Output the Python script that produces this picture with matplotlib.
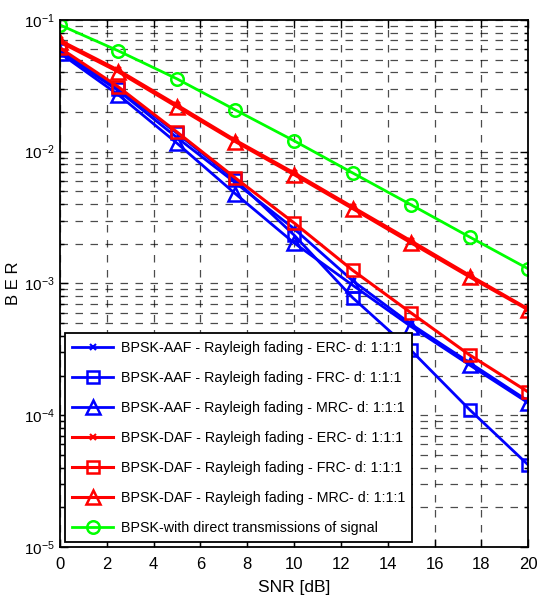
import numpy as np
import matplotlib
matplotlib.use("Agg")
import matplotlib.pyplot as plt
from matplotlib.ticker import FixedLocator, FixedFormatter, LogLocator, NullFormatter

matplotlib.rcParams["font.family"] = ["Liberation Sans", "DejaVu Sans"]
matplotlib.rcParams["mathtext.fontset"] = "custom"
matplotlib.rcParams["mathtext.rm"] = "Liberation Sans"
matplotlib.rcParams["mathtext.default"] = "regular"

# SNR points (dB)
snr = [0, 2.5, 5, 7.5, 10, 12.5, 15, 17.5, 20]

# BER curves
aaf_erc = [0.057, 0.029, 0.0128, 0.0058, 0.0026, 0.00105, 0.00049, 0.00025, 0.000128]
aaf_frc = [0.059, 0.030, 0.0138, 0.0061, 0.00233, 0.00078, 0.00031, 0.000110, 0.0000419]
aaf_mrc = [0.056, 0.027, 0.0116, 0.00478, 0.00203, 0.00097, 0.00047, 0.00024, 0.000124]
daf_erc = [0.070, 0.0415, 0.0226, 0.0122, 0.0069, 0.0038, 0.0021, 0.00115, 0.00064]
daf_frc = [0.0613, 0.031, 0.0141, 0.0063, 0.00288, 0.00126, 0.000597, 0.000286, 0.00015]
daf_mrc = [0.068, 0.0403, 0.0219, 0.0119, 0.0067, 0.0037, 0.00203, 0.00112, 0.00063]
direct = [0.0916, 0.0582, 0.0357, 0.0207, 0.0121, 0.0069, 0.00395, 0.00225, 0.00129]

labels = [
    "BPSK-AAF - Rayleigh fading - ERC- d: 1:1:1",
    "BPSK-AAF - Rayleigh fading - FRC- d: 1:1:1",
    "BPSK-AAF - Rayleigh fading - MRC- d: 1:1:1",
    "BPSK-DAF - Rayleigh fading - ERC- d: 1:1:1",
    "BPSK-DAF - Rayleigh fading - FRC- d: 1:1:1",
    "BPSK-DAF - Rayleigh fading - MRC- d: 1:1:1",
    "BPSK-with direct transmissions of signal",
]

fig = plt.figure(figsize=(5.39, 6.03), dpi=100)
ax = fig.add_axes([0.111, 0.093, 0.869, 0.874])

blue, red, green = (0, 0, 1), (1, 0, 0), (0, 1, 0)
ax.semilogy(snr, aaf_erc, color=blue, lw=2, marker="x", ms=4, mew=1.5, label=labels[0])
ax.semilogy(snr, aaf_frc, color=blue, lw=2, marker="s", ms=9, mfc="none", mew=1.8, label=labels[1])
ax.semilogy(snr, aaf_mrc, color=blue, lw=2, marker="^", ms=10, mfc="none", mew=1.8, label=labels[2])
ax.semilogy(snr, daf_erc, color=red, lw=2.2, marker="x", ms=4, mew=1.5, label=labels[3])
ax.semilogy(snr, daf_frc, color=red, lw=2.2, marker="s", ms=9, mfc="none", mew=1.8, label=labels[4])
ax.semilogy(snr, daf_mrc, color=red, lw=2.2, marker="^", ms=10, mfc="none", mew=1.8, label=labels[5])
ax.semilogy(snr, direct, color=green, lw=2, marker="o", ms=9, mfc="none", mew=1.8, label=labels[6])

ax.set_xlim(0, 20)
ax.set_ylim(1e-5, 1e-1)
ax.set_xticks(range(0, 21, 2))
ax.yaxis.set_major_locator(FixedLocator([1e-5, 1e-4, 1e-3, 1e-2, 1e-1]))
ax.yaxis.set_major_formatter(FixedFormatter([r"$10^{-5}$", r"$10^{-4}$", r"$10^{-3}$", r"$10^{-2}$", r"$10^{-1}$"]))
ax.yaxis.set_minor_locator(LogLocator(base=10, subs=np.arange(2, 10), numticks=20))
ax.yaxis.set_minor_formatter(NullFormatter())

ax.tick_params(which="both", direction="in", top=True, right=True, labelsize=12)
ax.tick_params(axis="y", labelsize=11)
ax.tick_params(which="major", length=6, width=1)
ax.tick_params(which="minor", length=3, width=1)
ax.tick_params(axis="x", pad=7)

ax.grid(True, which="major", color="black", linestyle=(0, (6, 6)), linewidth=0.9, alpha=0.7)
ax.grid(True, which="minor", axis="y", color="black", linestyle=(0, (6, 6)), linewidth=0.9, alpha=0.7)
for s in ax.spines.values():
    s.set_linewidth(1.3)

ax.set_xlabel("SNR [dB]", fontsize=12.5, labelpad=6)
ax.set_ylabel("B E R", fontsize=12)
ax.yaxis.set_label_coords(-0.082, 0.5)

leg = ax.legend(loc="lower left", fontsize=10.3, handlelength=2.9, borderaxespad=0.35,
                fancybox=False, framealpha=1, edgecolor="black", labelspacing=1.12,
                borderpad=0.5, handletextpad=0.5)
leg.get_frame().set_linewidth(1.3)

plt.savefig("out.png", dpi=100)
plt.close()
